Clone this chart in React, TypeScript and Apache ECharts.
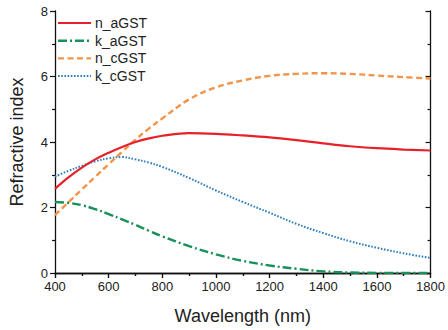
import React, { useEffect, useRef } from "react";
import * as echarts from "echarts";

// Wavelength grid (nm) shared by all four curves
const wavelengths = [400, 450, 500, 550, 600, 650, 700, 750, 800, 900, 1000, 1100, 1200, 1300, 1400, 1500, 1600, 1700, 1800];

// Optical constants of amorphous and crystalline GST
const nAGST = [2.57, 2.92, 3.22, 3.47, 3.67, 3.85, 4.0, 4.11, 4.19, 4.27, 4.25, 4.2, 4.14, 4.06, 3.96, 3.87, 3.81, 3.77, 3.74];
const kAGST = [2.17, 2.14, 2.07, 1.95, 1.8, 1.64, 1.47, 1.29, 1.12, 0.82, 0.57, 0.37, 0.23, 0.13, 0.05, 0.015, 0.005, 0.0, 0.0];
const nCGST = [1.77, 2.16, 2.55, 2.94, 3.32, 3.7, 4.07, 4.41, 4.72, 5.3, 5.67, 5.88, 6.02, 6.08, 6.1, 6.08, 6.03, 5.98, 5.94];
const kCGST = [2.94, 3.12, 3.27, 3.41, 3.5, 3.54, 3.47, 3.37, 3.24, 2.9, 2.52, 2.17, 1.84, 1.5, 1.22, 0.97, 0.77, 0.6, 0.46];

const seriesNames = ["n_aGST", "k_aGST", "n_cGST", "k_cGST"];
const seriesValues = [nAGST, kAGST, nCGST, kCGST];
const seriesColors = ["#e8202a", "#17905a", "#f2954a", "#2f7fc0"];
const seriesDash: (string | number[])[] = ["solid", [9, 3, 2, 3], [6, 3.5], [1.6, 1.6]];
const seriesWidth = [2.2, 2.4, 2.4, 2];

const xRange = { min: 400, max: 1800, interval: 200 };
const yRange = { min: 0, max: 8, interval: 2 };

const FONT = "'Liberation Sans', Arial, sans-serif";

export default function App() {
  const ref = useRef<HTMLDivElement>(null);

  useEffect(() => {
    if (!ref.current) return;
    const chart = echarts.init(ref.current, undefined, { renderer: "svg" });

    const axisLine = { show: true, lineStyle: { color: "#111", width: 1.3 } };
    const baseTick = { show: true, length: 5, lineStyle: { color: "#111", width: 1.2 } };
    const baseMinor = { show: true, splitNumber: 2, length: 3, lineStyle: { color: "#111", width: 1.2 } };

    // Legend drawn as line samples with labels, stacked in the upper-left corner
    const legendLeft = 58;
    const legendTop = 23;
    const legendStep = 17.7;
    const legendItems = seriesNames.flatMap((name, i) => {
      const y = legendTop + i * legendStep;
      const dash = seriesDash[i];
      return [
        {
          type: "line",
          shape: { x1: legendLeft, y1: y, x2: legendLeft + 33, y2: y },
          style: {
            stroke: seriesColors[i],
            lineWidth: seriesWidth[i],
            lineDash: Array.isArray(dash) ? dash : null,
          },
          silent: true,
        },
        {
          type: "text",
          x: legendLeft + 37,
          y,
          style: {
            text: name,
            fill: "#222",
            font: `14px ${FONT}`,
            verticalAlign: "middle",
            align: "left",
          },
          silent: true,
        },
      ];
    });

    chart.setOption({
      animation: false,
      backgroundColor: "#fff",
      textStyle: { fontFamily: FONT },
      grid: { left: 55, right: 15, top: 11, bottom: 53, containLabel: false },
      graphic: legendItems,
      xAxis: [
        {
          type: "value",
          ...xRange,
          position: "bottom",
          axisLine,
          axisTick: { ...baseTick, inside: false },
          minorTick: baseMinor,
          splitLine: { show: false },
          axisLabel: {
            fontSize: 13,
            color: "#222",
            margin: 7,
            fontFamily: FONT,
            formatter: (v: number) => String(v),
          },
          name: "Wavelength (nm)",
          nameLocation: "middle",
          nameGap: 34,
          nameTextStyle: { fontSize: 18, color: "#222", fontFamily: FONT },
        },
        {
          type: "value",
          ...xRange,
          position: "top",
          axisLine,
          axisTick: { ...baseTick, inside: true },
          minorTick: baseMinor,
          splitLine: { show: false },
          axisLabel: { show: false },
        },
      ],
      yAxis: [
        {
          type: "value",
          ...yRange,
          position: "left",
          axisLine,
          axisTick: { ...baseTick, inside: false },
          minorTick: baseMinor,
          splitLine: { show: false },
          axisLabel: {
            fontSize: 13,
            color: "#222",
            margin: 7,
            fontFamily: FONT,
            formatter: (v: number) => String(v),
          },
          name: "Refractive index",
          nameLocation: "middle",
          nameGap: 29,
          nameTextStyle: { fontSize: 18, color: "#222", fontFamily: FONT },
        },
        {
          type: "value",
          ...yRange,
          position: "right",
          axisLine,
          axisTick: { ...baseTick, inside: true },
          minorTick: baseMinor,
          splitLine: { show: false },
          axisLabel: { show: false },
        },
      ],
      series: seriesNames.map((name, i) => ({
        name,
        type: "line",
        xAxisIndex: 0,
        yAxisIndex: 0,
        smooth: 0.4,
        showSymbol: false,
        symbol: "none",
        data: wavelengths.map((w, j) => [w, seriesValues[i][j]]),
        lineStyle: { color: seriesColors[i], width: seriesWidth[i], type: seriesDash[i] },
        itemStyle: { color: seriesColors[i] },
        z: 4 - i,
      })),
    });

    return () => chart.dispose();
  }, []);

  return <div ref={ref} style={{ width: 448, height: 330, position: "absolute", left: 0, top: 0 }} />;
}
